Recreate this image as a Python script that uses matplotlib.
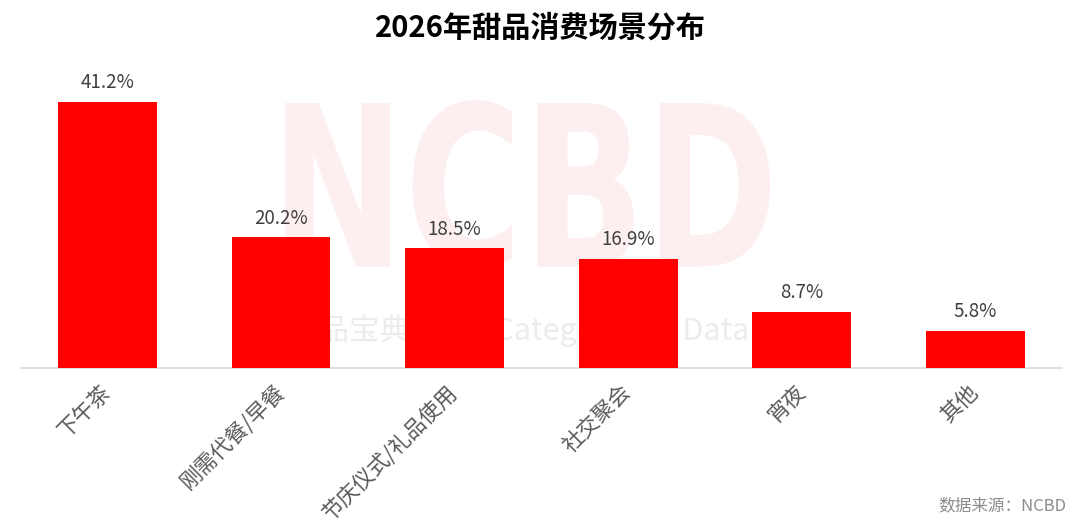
import matplotlib
matplotlib.use("Agg")
import matplotlib.pyplot as plt
import numpy as np
from matplotlib.font_manager import FontProperties
from matplotlib.patches import PathPatch
from matplotlib.path import Path
from matplotlib.textpath import TextPath

plt.rcParams["font.family"] = ["Noto Sans CJK SC", "DejaVu Sans"]

scenes = ["下午茶", "刚需代餐/早餐", "节庆仪式/礼品使用", "社交聚会", "宵夜", "其他"]
shares = [41.2, 20.2, 18.5, 16.9, 8.7, 5.8]
title = "2026年甜品消费场景分布"
source = "数据来源：NCBD"

fig = plt.figure(figsize=(10.8, 5.31), dpi=100)
ax = fig.add_axes([0.0192, 0.307, 0.964, 0.584])

x = np.arange(len(scenes))
bars = ax.bar(x, shares, width=0.57, color="#ff0000", zorder=3)

for bar, val in zip(bars, shares):
    ax.text(bar.get_x() + bar.get_width() / 2, val + 1.3, f"{val:.1f}%",
            ha="center", va="bottom", fontsize=13.5, color="#404040", zorder=4)

ax.set_xlim(-0.5, len(scenes) - 0.5)
ax.set_ylim(0, 48)
ax.set_xticks(x)
ax.set_xticklabels(scenes, rotation=45, ha="right", va="center",
                   rotation_mode="anchor", fontsize=15.5, color="#595959")
ax.tick_params(axis="x", length=0, pad=15)
ax.set_yticks([])
for side in ["left", "right", "top"]:
    ax.spines[side].set_visible(False)
ax.spines["bottom"].set_color("#d9d9d9")
ax.spines["bottom"].set_linewidth(1.2)

# watermark behind the bars: squeeze the bold letters into a narrow block
tp = TextPath((0, 0), "NCBD", size=1,
              prop=FontProperties(family="DejaVu Sans", weight="bold"))
ext = tp.get_extents()
x0, y0, x1, y1 = 285 / 1080, 261 / 531, 770 / 1080, 431 / 531
verts = tp.vertices.copy()
verts[:, 0] = x0 + (verts[:, 0] - ext.x0) / ext.width * (x1 - x0)
verts[:, 1] = y0 + (verts[:, 1] - ext.y0) / ext.height * (y1 - y0)
wm = PathPatch(Path(verts, tp.codes), transform=fig.transFigure,
               facecolor="#fdeef0", edgecolor="none", zorder=0, clip_on=False)
ax.add_patch(wm)
ax.text(0.48, 0.378, "新品宝典  New Category Big Data", ha="center", va="center",
        fontsize=22, color="#ececec", zorder=1, transform=fig.transFigure)

fig.text(0.5, 0.948, title, ha="center", va="center", fontsize=21,
         fontweight="bold", color="#000000")
fig.text(0.987, 0.048, source, ha="right", va="center", fontsize=12,
         color="#8c8c8c")

fig.savefig("out.png", dpi=100)
